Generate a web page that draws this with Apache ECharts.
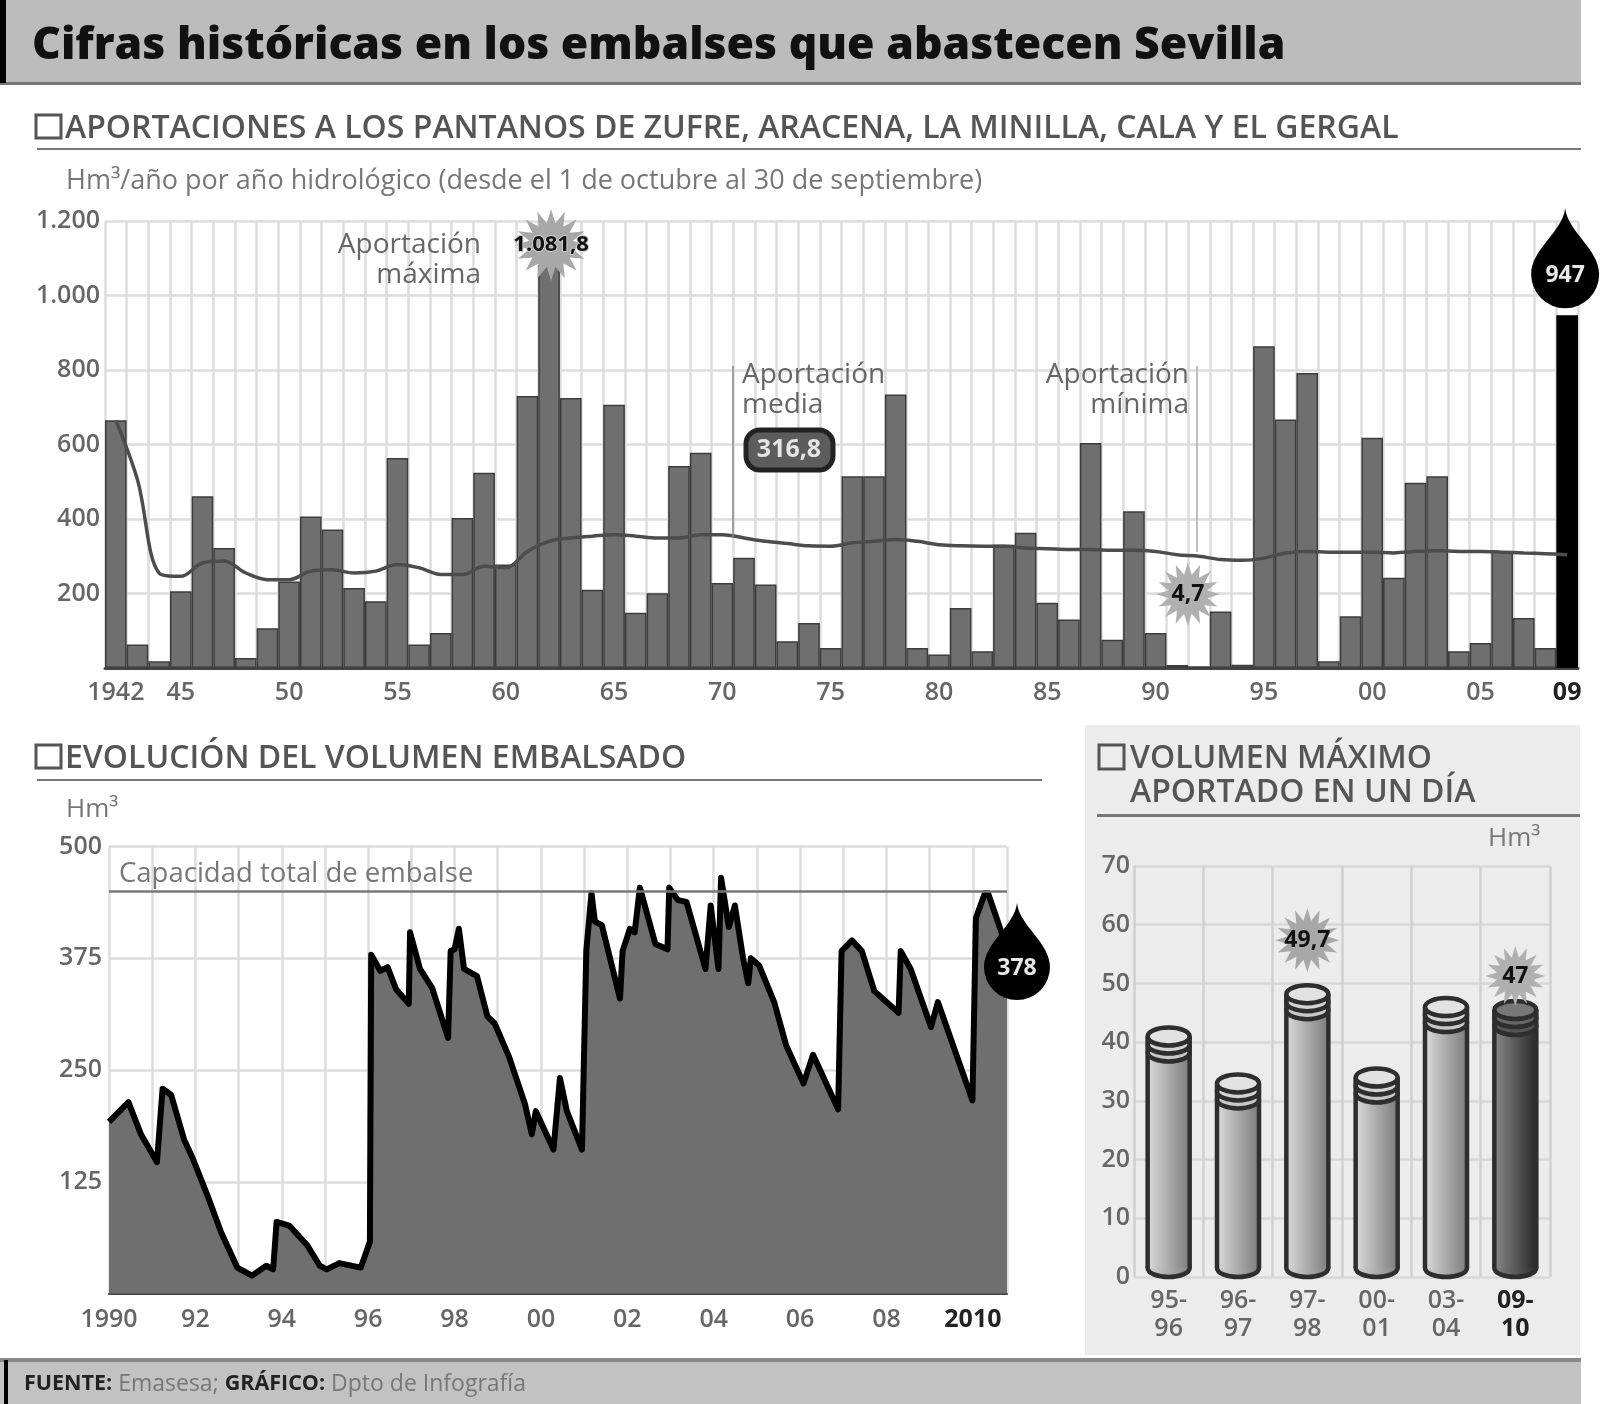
<!DOCTYPE html>
<html><head><meta charset="utf-8">
<style>html,body{margin:0;padding:0;background:#fff}#c{width:1600px;height:1404px}</style>
<script src="https://cdn.jsdelivr.net/npm/echarts@6/dist/echarts.min.js"></script>
</head><body><div id="c"></div>
<script>
// ---- data ----
const inflowYears = [1942,1943,1944,1945,1946,1947,1948,1949,1950,1951,1952,1953,1954,1955,1956,1957,1958,1959,1960,1961,1962,1963,1964,1965,1966,1967,1968,1969,1970,1971,1972,1973,1974,1975,1976,1977,1978,1979,1980,1981,1982,1983,1984,1985,1986,1987,1988,1989,1990,1991,1992,1993,1994,1995,1996,1997,1998,1999,2000,2001,2002,2003,2004,2005,2006,2007,2008,2009];
const inflowValues = [665,63,18,206,461,322,27,107,232,407,372,215,179,564,63,94,403,524,278,730,1081.8,725,210,707,148,201,542,578,228,296,224,72,121,54,515,515,734,54,36,161,45,331,363,175,130,604,76,421,94,8,4.7,152,9,864,667,792,18,139,618,242,497,515,45,67,313,134,54,947];
const inflowMean = [665,505,255,246,282,287,255,237,237,260,264,255,260,278,269,251,251,273,269,313,340,349,354,358,354,349,349,358,358,349,340,334,328,327,336,340,345,340,331,328,327,327,322,320,318,318,316,316,313,304,300,291,289,295,309,313,311,311,311,309,313,315,313,313,311,309,307,304];
const inflowTickLabels = {1942:'1942',1945:'45',1950:'50',1955:'55',1960:'60',1965:'65',1970:'70',1975:'75',1980:'80',1985:'85',1990:'90',1995:'95',2000:'00',2005:'05',2009:'09'};
const volumeTimes = [1990,1990.45,1990.74,1991.11,1991.24,1991.44,1991.74,1991.94,1992.27,1992.6,1992.97,1993.31,1993.64,1993.8,1993.88,1994.17,1994.59,1994.88,1995.04,1995.33,1995.83,1996.04,1996.07,1996.28,1996.45,1996.65,1996.94,1996.97,1997.2,1997.48,1997.85,1997.91,1998,1998.1,1998.22,1998.52,1998.76,1998.93,1999.26,1999.63,1999.79,1999.88,2000.29,2000.44,2000.6,2000.95,2001.05,2001.17,2001.25,2001.41,2001.83,2001.89,2002.06,2002.17,2002.29,2002.65,2002.93,2002.97,2003.17,2003.37,2003.81,2003.93,2004.11,2004.17,2004.35,2004.49,2004.68,2004.8,2004.86,2005.05,2005.4,2005.68,2006.08,2006.3,2006.88,2006.96,2007.2,2007.43,2007.72,2008.28,2008.33,2008.56,2009.03,2009.19,2009.99,2010.07,2010.28,2010.35,2010.67,2010.79];
const volumeValues = [192,214,178,147,229,222,172,151,111,68,29,20,31,27,80,76,54,31,27,34,29,58,379,361,365,340,324,404,363,342,286,383,385,408,363,355,310,302,265,212,178,204,161,241,204,161,383,448,416,412,330,383,408,404,454,391,385,454,440,438,363,434,363,465,410,434,375,347,375,367,326,277,235,267,206,383,395,383,338,314,383,363,298,326,216,420,448,448,403,378];
const volumeYearLabels = {1990:'1990',1992:'92',1994:'94',1996:'96',1998:'98',2000:'00',2002:'02',2004:'04',2006:'06',2008:'08',2010:'2010'};
const capacity = 450;
const seasonLabels = ['95-\n96','96-\n97','97-\n98','00-\n01','03-\n04','09-\n10'];
const seasonValues = [42.5,34.5,49.7,35.5,47.5,47];

const FF = '"Open Sans","Noto Sans",sans-serif';
const TXT = '#666';
const burst = (n,r1,r2)=>{let p=[];for(let i=0;i<n*2;i++){const r=i%2?r2:r1,a=Math.PI*i/n;p.push((i?'L':'M')+(50+r*Math.sin(a)).toFixed(1)+' '+(50-r*Math.cos(a)).toFixed(1));}return 'path://'+p.join('')+'Z';};
const BURST = burst(16,50,31);
const DROP = 'path://M50 0C54 35 100 60 100 97A50 50 0 1 1 0 97C0 60 46 35 50 0Z';

const el = [];
const rect=(x,y,w,h,fill,extra)=>el.push({type:'rect',z:-1,shape:{x,y,width:w,height:h},style:Object.assign({fill},extra||{})});
const text=(x,y,t,size,fill,weight,align,ls)=>el.push({type:'text',z:50,x,y,style:{text:t,fontFamily:FF,fontSize:size,fontWeight:weight||'normal',fill,align:align||'left',verticalAlign:'middle',lineHeight:ls||size*1.2}});
const square=(x,y,w,h)=>rect(x,y,w,h,'none',{stroke:'#555',lineWidth:3});
// header, footer, side panel
rect(0,0,1581,83,'#bcbcbc'); rect(0,82,1581,3,'#777'); rect(0,0,6,83,'#000');
rect(0,1358,1581,46,'#c2c2c2'); rect(0,1358,1581,4,'#888'); rect(4,1360,4,44,'#000');
rect(1085,725,495,630,'#ececec');
text(32,46,'Cifras históricas en los embalses que abastecen Sevilla',44.5,'#111','800');
// section heads
square(36,115,25,23);
text(65,129,'APORTACIONES A LOS PANTANOS DE ZUFRE, ARACENA, LA MINILLA, CALA Y EL GERGAL',32,'#555','600');
rect(37,148,1544,2,'#777');
text(66,181,'Hm³/año por año hidrológico (desde el 1 de octubre al 30 de septiembre)',27,'#777');
square(36,745,25,23);
text(65,759,'EVOLUCIÓN DEL VOLUMEN EMBALSADO',32,'#555','600');
rect(37,779,1005,2,'#777');
text(66,810,'Hm³',26,'#777');
square(1099,745,25,24);
text(1130,759,'VOLUMEN MÁXIMO',32,'#555','600');
text(1130,793,'APORTADO EN UN DÍA',32,'#555','600');
rect(1097,814,483,3,'#777');
text(1488,839,'Hm³',26,'#777');
// annotations
text(481,260,'Aportación\nmáxima',28,TXT,'normal','right',30);
text(742,390,'Aportación\nmedia',28,TXT,'normal','left',30);
text(1189,390,'Aportación\nmínima',28,TXT,'normal','right',30);
el.push({type:'line',z:4,shape:{x1:733,y1:366,x2:733,y2:537},style:{stroke:'#888',lineWidth:1.5}});
el.push({type:'line',z:4,shape:{x1:1197,y1:366,x2:1197,y2:552},style:{stroke:'#aaa',lineWidth:1.5}});
el.push({type:'rect',z:50,shape:{x:746,y:430,width:87,height:40,r:14},style:{fill:'#5c5c5c',stroke:'#222',lineWidth:5}});
text(789,450,'316,8',25,'#e4e4e4','bold','center');
// footer text
el.push({type:'text',z:50,x:24,y:1384,style:{text:'{b|FUENTE:} Emasesa; {b|GRÁFICO:} Dpto de Infografía',fontFamily:FF,fontSize:23,fill:'#777',verticalAlign:'middle',rich:{b:{fontFamily:FF,fontSize:21.5,fontWeight:'bold',fill:'#222'}}}});

const grayLine={color:'#dcdcdc',width:2.5};
const axisLab=(extra)=>Object.assign({color:TXT,fontFamily:FF,fontSize:25,fontWeight:600},extra);

const option={
 animation:false,backgroundColor:'#fff',graphic:{elements:el},
 grid:[
  {left:105,top:221,width:1473,height:447},
  {left:109,top:846.5,width:898,height:447},
  {left:1134,top:866,width:416,height:411}
 ],
 xAxis:[
  {gridIndex:0,type:'category',data:inflowYears.map(String),axisTick:{show:false},
   axisLine:{lineStyle:{color:'#444',width:3}},splitLine:{show:true,interval:0,lineStyle:grayLine},
   axisLabel:axisLab({interval:0,margin:12,hideOverlap:false,formatter:v=>{const t=inflowTickLabels[v];return t?(v==='2009'?'{b|'+t+'}':t):'';},rich:{b:{fontFamily:FF,fontSize:25,fontWeight:'bold',color:'#222'}}})},
  {gridIndex:1,type:'value',min:1990,max:2010.79,interval:1,axisTick:{show:false},
   axisLine:{lineStyle:{color:'#444',width:2}},splitLine:{show:true,lineStyle:grayLine},
   axisLabel:axisLab({margin:14,showMinLabel:true,showMaxLabel:false,formatter:v=>{const t=volumeYearLabels[v];return t?(v===2010?'{b|'+t+'}':t):'';},rich:{b:{fontFamily:FF,fontSize:25,fontWeight:'bold',color:'#222'}}})},
  {gridIndex:2,type:'category',data:seasonLabels,axisTick:{show:false},axisLine:{show:false},
   splitLine:{show:true,interval:0,lineStyle:{color:'#d0d0d0',width:2.5}},
   axisLabel:axisLab({interval:0,margin:10,lineHeight:28,formatter:(v,i)=>i===5?'{b|'+v.replace('\n','}\n{b|')+'}':v,rich:{b:{fontFamily:FF,fontSize:25,fontWeight:'bold',color:'#222',lineHeight:28}}})}
 ],
 yAxis:[
  {gridIndex:0,type:'value',min:0,max:1200,interval:200,axisLine:{show:false},axisTick:{show:false},
   splitLine:{lineStyle:grayLine},axisLabel:axisLab({margin:5,formatter:v=>v===0?'':(v>=1000?String(v).replace(/(\d)(\d{3})$/,'$1.$2'):String(v))})},
  {gridIndex:1,type:'value',min:0,max:500,interval:125,axisLine:{show:false},axisTick:{show:false},
   splitLine:{lineStyle:grayLine},axisLabel:axisLab({margin:7,formatter:v=>v===0?'':String(v)})},
  {gridIndex:2,type:'value',min:0,max:70,interval:10,axisLine:{show:false},axisTick:{show:false},
   splitLine:{lineStyle:{color:'#d8d8d8',width:2.5}},axisLabel:axisLab({margin:4})}
 ],
 series:[
  {type:'bar',xAxisIndex:0,yAxisIndex:0,barWidth:'100%',z:2,
   itemStyle:{color:'#6f6f6f',borderColor:'#3c3c3c',borderWidth:1.5},
   data:inflowValues.map((v,i)=>i===inflowValues.length-1?{value:v,itemStyle:{color:'#000',borderColor:'#000'}}:v)},
  {type:'line',xAxisIndex:0,yAxisIndex:0,z:3,smooth:0.35,showSymbol:false,lineStyle:{color:'#4c4c4c',width:3.5},data:inflowMean},
  {type:'scatter',xAxisIndex:0,yAxisIndex:0,z:6,clip:false,itemStyle:{opacity:1},data:[
    {value:['1962',1081.8],symbol:BURST,symbolSize:[72,72],symbolOffset:[2,-20],itemStyle:{color:'#a8a8a8',opacity:1},label:{show:true,position:'inside',formatter:'1.081,8',fontFamily:FF,fontSize:22,fontWeight:'bold',color:'#111',textBorderColor:'#ccc',textBorderWidth:2}},
    {value:['1992',4.7],symbol:BURST,symbolSize:[64,64],symbolOffset:[-11,-72],itemStyle:{color:'#b0b0b0',opacity:1},label:{show:true,position:'inside',formatter:'4,7',fontFamily:FF,fontSize:23,fontWeight:'bold',color:'#111'}},
    {value:['2009',947],symbol:DROP,symbolSize:[68,100],symbolOffset:[-2,-57],itemStyle:{color:'#000',opacity:1},label:{show:true,position:'inside',offset:[0,17],formatter:'947',fontFamily:FF,fontSize:23,fontWeight:'bold',color:'#e8e8e8'}}
  ]},
  {type:'line',xAxisIndex:1,yAxisIndex:1,z:3,showSymbol:false,lineStyle:{color:'#000',width:6,join:'round'},areaStyle:{color:'#6f6f6f',opacity:1},
   data:volumeTimes.map((t,i)=>[t,volumeValues[i]]),
   markLine:{silent:true,symbol:'none',z:4,lineStyle:{color:'#777',width:2.5,type:'solid'},label:{show:true,position:'insideStartTop',distance:[10,3],formatter:'Capacidad total de embalse',fontFamily:FF,fontSize:27.5,color:'#777'},data:[{yAxis:capacity}]}},
  {type:'scatter',xAxisIndex:1,yAxisIndex:1,z:6,clip:false,data:[
    {value:[volumeTimes[volumeTimes.length-1],volumeValues[volumeValues.length-1]],symbol:DROP,symbolSize:[66,97],symbolOffset:[10,-4],itemStyle:{color:'#000',opacity:1},label:{show:true,position:'inside',offset:[0,17],formatter:'378',fontFamily:FF,fontSize:23,fontWeight:'bold',color:'#e8e8e8'}}
  ]},
  {type:'custom',xAxisIndex:2,yAxisIndex:2,z:3,clip:false,encode:{x:0,y:1},
   data:seasonValues.map((v,i)=>[i,v]),
   renderItem:(params,api)=>{
     const i=api.value(0),top=api.coord([i,api.value(1)]),base=api.coord([i,0]);
     const cx=top[0],w=42,rx=w/2,ry=9,x0=cx-rx,x1=cx+rx,last=i===seasonValues.length-1;
     const grad={type:'linear',x:0,y:0,x2:1,y2:0,colorStops:last?[{offset:0,color:'#888'},{offset:1,color:'#2a2a2a'}]:[{offset:0,color:'#dadada'},{offset:1,color:'#7c7c7c'}]};
     const stroke={stroke:'#2e2e2e',lineWidth:4.5};
     const ell=(y,fill)=>({type:'ellipse',shape:{cx,cy:y,rx,ry},style:Object.assign({fill},stroke)});
     const bodyTop=top[1]+ry;
     return {type:'group',children:[
       ell(base[1]-ry,grad),
       {type:'rect',shape:{x:x0,y:bodyTop,width:w,height:base[1]-ry-bodyTop},style:{fill:grad}},
       {type:'line',shape:{x1:x0,y1:bodyTop,x2:x0,y2:base[1]-ry},style:{stroke:'#2e2e2e',lineWidth:4.5}},
       {type:'line',shape:{x1:x1,y1:bodyTop,x2:x1,y2:base[1]-ry},style:{stroke:'#2e2e2e',lineWidth:4.5}},
       ell(bodyTop+16,last?'#555':'#c8c8c8'),
       ell(bodyTop+8,last?'#666':'#d4d4d4'),
       ell(bodyTop,last?'#777':'#e2e2e2')
     ]};
   }},
  {type:'scatter',xAxisIndex:2,yAxisIndex:2,z:6,clip:false,data:[
    {value:[seasonLabels[2],seasonValues[2]],symbol:BURST,symbolSize:[64,64],symbolOffset:[0,-45],itemStyle:{color:'#a8a8a8',opacity:1},label:{show:true,position:'inside',formatter:'49,7',fontFamily:FF,fontSize:23,fontWeight:'bold',color:'#111'}},
    {value:[seasonLabels[5],seasonValues[5]],symbol:BURST,symbolSize:[60,60],symbolOffset:[0,-25],itemStyle:{color:'#b0b0b0',opacity:1},label:{show:true,position:'inside',formatter:'47',fontFamily:FF,fontSize:23,fontWeight:'bold',color:'#111'}}
  ]}
 ]
};
echarts.init(document.getElementById('c'),null,{renderer:'canvas'}).setOption(option);
</script></body></html>
